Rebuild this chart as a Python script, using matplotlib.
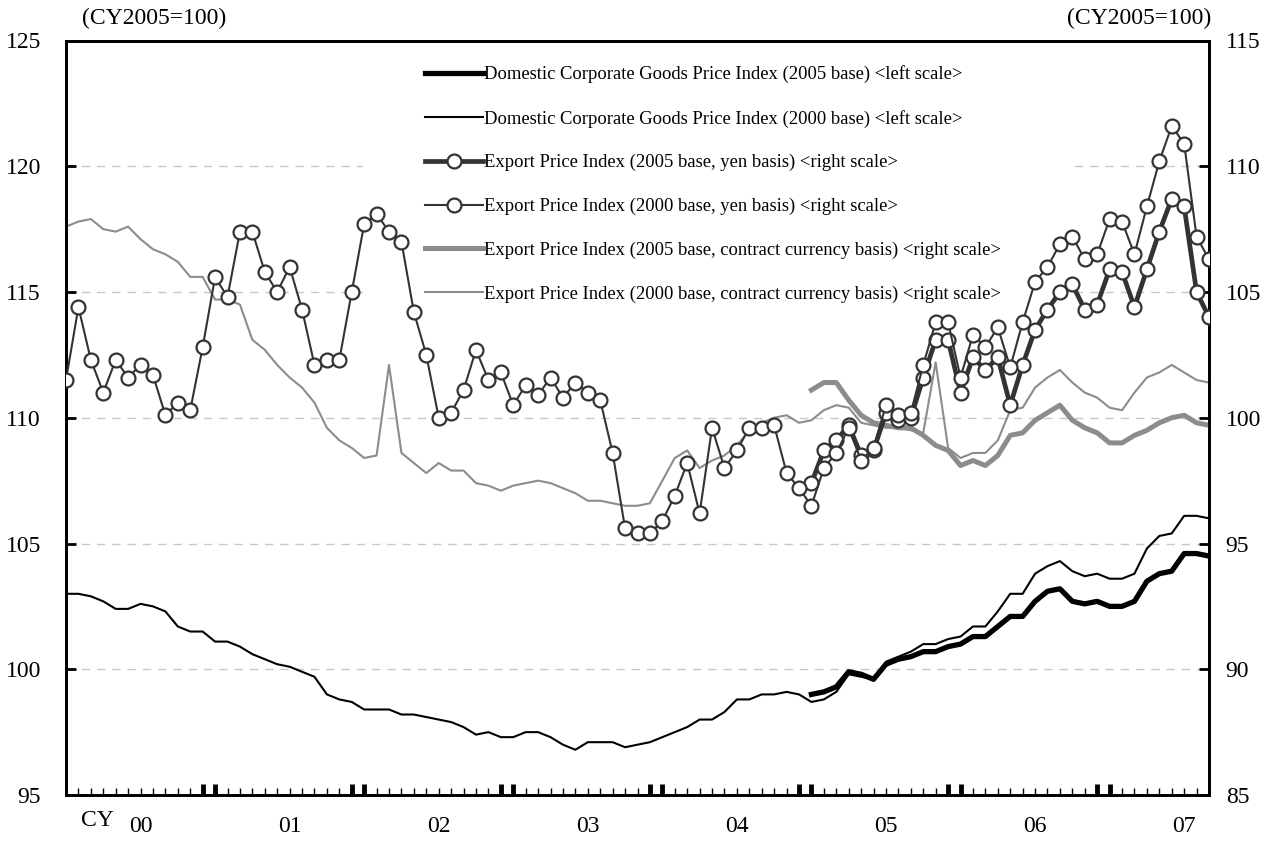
import matplotlib

matplotlib.use("Agg")
import matplotlib.pyplot as plt
import matplotlib.transforms as mtransforms
from matplotlib.patches import Rectangle
import numpy as np

plt.rcParams.update({
    "font.family": "Liberation Serif",
    "font.size": 15,
})

# monthly, Jan 2000 .. Sep 2007 (index 0..92); 2005-base series start Jan 2005 (index 60)
months = np.arange(93)
months_2005 = np.arange(60, 93)

# Domestic CGPI, left scale
dom_2000 = [103.0, 103.0, 102.9, 102.7, 102.4, 102.4, 102.6, 102.5, 102.3, 101.7, 101.5, 101.5,
            101.1, 101.1, 100.9, 100.6, 100.4, 100.2, 100.1, 99.9, 99.7, 99.0, 98.8, 98.7,
            98.4, 98.4, 98.4, 98.2, 98.2, 98.1, 98.0, 97.9, 97.7, 97.4, 97.5, 97.3,
            97.3, 97.5, 97.5, 97.3, 97.0, 96.8, 97.1, 97.1, 97.1, 96.9, 97.0, 97.1,
            97.3, 97.5, 97.7, 98.0, 98.0, 98.3, 98.8, 98.8, 99.0, 99.0, 99.1, 99.0,
            98.7, 98.8, 99.1, 99.8, 99.7, 99.6, 100.3, 100.5, 100.7, 101.0, 101.0, 101.2,
            101.3, 101.7, 101.7, 102.3, 103.0, 103.0, 103.8, 104.1, 104.3, 103.9, 103.7, 103.8,
            103.6, 103.6, 103.8, 104.8, 105.3, 105.4, 106.1, 106.1, 106.0]
dom_2005 = [99.0, 99.1, 99.3, 99.9, 99.8, 99.6, 100.2, 100.4, 100.5, 100.7, 100.7, 100.9,
            101.0, 101.3, 101.3, 101.7, 102.1, 102.1, 102.7, 103.1, 103.2, 102.7, 102.6, 102.7,
            102.5, 102.5, 102.7, 103.5, 103.8, 103.9, 104.6, 104.6, 104.5]

# Export price index, right scale
exp_yen_2000 = [101.5, 104.4, 102.3, 101.0, 102.3, 101.6, 102.1, 101.7, 100.1, 100.6, 100.3, 102.8,
                105.6, 104.8, 107.4, 107.4, 105.8, 105.0, 106.0, 104.3, 102.1, 102.3, 102.3, 105.0,
                107.7, 108.1, 107.4, 107.0, 104.2, 102.5, 100.0, 100.2, 101.1, 102.7, 101.5, 101.8,
                100.5, 101.3, 100.9, 101.6, 100.8, 101.4, 101.0, 100.7, 98.6, 95.6, 95.4, 95.4,
                95.9, 96.9, 98.2, 96.2, 99.6, 98.0, 98.7, 99.6, 99.6, 99.7, 97.8, 97.2,
                96.5, 98.0, 98.6, 99.6, 98.3, 98.8, 100.5, 100.1, 100.2, 102.1, 103.8, 103.8,
                101.6, 103.3, 102.8, 103.6, 102.0, 103.8, 105.4, 106.0, 106.9, 107.2, 106.3, 106.5,
                107.9, 107.8, 106.5, 108.4, 110.2, 111.6, 110.9, 107.2, 106.3]
exp_yen_2005 = [97.4, 98.7, 99.1, 99.7, 98.5, 98.7, 100.2, 99.9, 100.0, 101.6, 103.1, 103.1,
                101.0, 102.4, 101.9, 102.4, 100.5, 102.1, 103.5, 104.3, 105.0, 105.3, 104.3, 104.5,
                105.9, 105.8, 104.4, 105.9, 107.4, 108.7, 108.4, 105.0, 104.0]
exp_cc_2000 = [107.6, 107.8, 107.9, 107.5, 107.4, 107.6, 107.1, 106.7, 106.5, 106.2, 105.6, 105.6,
               104.7, 104.7, 104.5, 103.1, 102.7, 102.1, 101.6, 101.2, 100.6, 99.6, 99.1, 98.8,
               98.4, 98.5, 102.1, 98.6, 98.2, 97.8, 98.2, 97.9, 97.9, 97.4, 97.3, 97.1,
               97.3, 97.4, 97.5, 97.4, 97.2, 97.0, 96.7, 96.7, 96.6, 96.5, 96.5, 96.6,
               97.5, 98.4, 98.7, 98.0, 98.3, 98.5, 98.9, 99.5, 99.8, 100.0, 100.1, 99.8,
               99.9, 100.3, 100.5, 100.4, 99.8, 99.7, 99.6, 99.6, 99.5, 99.4, 102.2, 98.8,
               98.4, 98.6, 98.6, 99.1, 100.3, 100.4, 101.2, 101.6, 101.9, 101.4, 101.0, 100.8,
               100.4, 100.3, 101.0, 101.6, 101.8, 102.1, 101.8, 101.5, 101.4]
exp_cc_2005 = [101.1, 101.4, 101.4, 100.7, 100.1, 99.8, 99.7, 99.6, 99.6, 99.3, 98.9, 98.7,
               98.1, 98.3, 98.1, 98.5, 99.3, 99.4, 99.9, 100.2, 100.5, 99.9, 99.6, 99.4,
               99.0, 99.0, 99.3, 99.5, 99.8, 100.0, 100.1, 99.8, 99.7]

year_labels = ["00", "01", "02", "03", "04", "05", "06", "07"]
year_label_pos = [6, 18, 30, 42, 54, 66, 78, 90]
year_tick_pos = [p for y in range(1, 8) for p in (12 * y - 1, 12 * y)]

labels = [
    "Domestic Corporate Goods Price Index (2005 base) <left scale>",
    "Domestic Corporate Goods Price Index (2000 base) <left scale>",
    "Export Price Index (2005 base, yen basis) <right scale>",
    "Export Price Index (2000 base, yen basis) <right scale>",
    "Export Price Index (2005 base, contract currency basis) <right scale>",
    "Export Price Index (2000 base, contract currency basis) <right scale>",
]

dark = "#333333"
gray = "#8c8c8c"

fig = plt.figure(figsize=(12.74, 8.44), dpi=100)
ax = fig.add_axes([66 / 1274, 1 - 795 / 844, (1209 - 66) / 1274, (795 - 40.5) / 844])
ax.set_xlim(0, 92)
ax.set_ylim(95, 125)
ax.set_yticks(range(95, 126, 5))
ax.set_axisbelow(True)
ax.yaxis.grid(True, color="#c8c8c8", linestyle=(0, (6, 5)), linewidth=1)

# white box behind the legend, hides the gridlines there
ax.add_patch(Rectangle((363 / 1274, 1 - 320 / 844), (1068 - 363) / 1274, (320 - 45) / 844,
                       transform=fig.transFigure, facecolor="white", edgecolor="none", zorder=1))

ax2 = ax.twinx()
ax2.set_ylim(85, 115)
ax2.set_yticks(range(85, 116, 5))

l1, = ax.plot(months_2005, dom_2005, color="black", lw=3.8, zorder=3)
l2, = ax.plot(months, dom_2000, color="black", lw=1.5, zorder=4)

mk = dict(marker="o", markersize=10, markerfacecolor="white", markeredgecolor=dark, markeredgewidth=1.6)
l5, = ax2.plot(months_2005, exp_cc_2005, color=gray, lw=3.6, zorder=2)
l6, = ax2.plot(months, exp_cc_2000, color=gray, lw=1.5, zorder=2)
l3, = ax2.plot(months_2005, exp_yen_2005, color=dark, lw=3.4, zorder=3, **mk)
l4, = ax2.plot(months, exp_yen_2000, color=dark, lw=1.5, zorder=4, **mk)

for a in (ax, ax2):
    for s in a.spines.values():
        s.set_linewidth(2)
        s.set_color("black")

ax.tick_params(axis="y", direction="in", length=7, width=2, pad=18, labelsize=17)
ax2.tick_params(axis="y", direction="in", length=7, width=2, pad=12, labelsize=17)

ax.set_xticks(year_tick_pos)
ax.set_xticks(months, minor=True)
ax.tick_params(axis="x", which="major", direction="in", length=8, width=3.5, labelbottom=False)
ax.tick_params(axis="x", which="minor", direction="in", length=5, width=1)

trans = mtransforms.blended_transform_factory(ax.transData, fig.transFigure)
for pos, lab in zip(year_label_pos, year_labels):
    ax.text(pos, 1 - 826 / 844, lab, transform=trans, ha="center", va="center", fontsize=17)
fig.text(97 / 1274, 1 - 820 / 844, "CY", ha="center", va="center", fontsize=17)

fig.text(82 / 1274, 1 - 18 / 844, "(CY2005=100)", ha="left", va="center", fontsize=17)
fig.text(1211 / 1274, 1 - 18 / 844, "(CY2005=100)", ha="right", va="center", fontsize=17)

leg = ax2.legend([l1, l2, l3, l4, l5, l6], labels, loc="upper left",
                 bbox_to_anchor=(418 / 1274, 1 - 58 / 844), bbox_transform=fig.transFigure,
                 frameon=False, fontsize=13.4, handlelength=3.1, handletextpad=0.05,
                 labelspacing=1.42, borderaxespad=0)

fig.savefig("out.png", dpi=100)
